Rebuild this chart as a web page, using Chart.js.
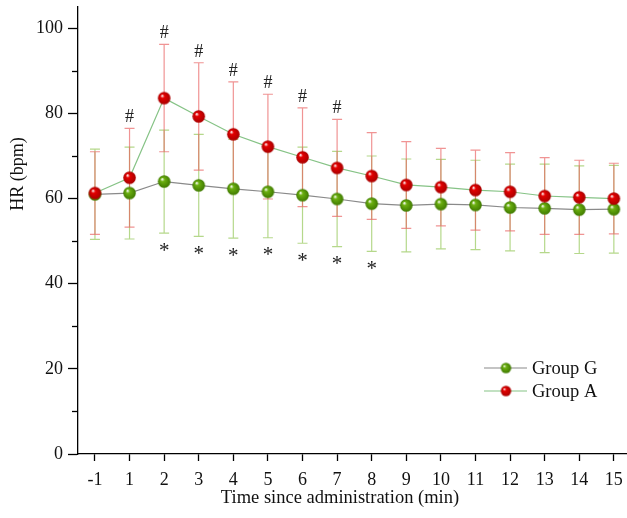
<!DOCTYPE html>
<html>
<head>
<meta charset="utf-8">
<script src="https://cdn.jsdelivr.net/npm/chart.js@4.4.0/dist/chart.umd.min.js"></script>
<style>
  html, body { margin: 0; padding: 0; background: #fff; }
  #wrap { width: 627px; height: 518px; }
</style>
</head>
<body>
<div id="wrap"><canvas id="hrChart" width="627" height="518"></canvas></div>
<script>
const timeLabels = ["-1", "1", "2", "3", "4", "5", "6", "7", "8", "9", "10", "11", "12", "13", "14", "15"];
const groupGMean = [61.0, 61.3, 64.0, 63.1, 62.3, 61.6, 60.8, 59.9, 58.8, 58.4, 58.7, 58.5, 57.9, 57.7, 57.4, 57.5];
const groupGSD   = [10.6, 10.8, 12.1, 12.0, 11.6, 10.8, 11.3, 11.2, 11.2, 10.9, 10.5, 10.5, 10.2, 10.4, 10.3, 10.3];
const groupAMean = [61.3, 64.9, 83.6, 79.3, 75.1, 72.2, 69.7, 67.2, 65.3, 63.2, 62.7, 62.0, 61.6, 60.6, 60.3, 60.0];
const groupASD   = [9.7, 11.6, 12.6, 12.6, 12.3, 12.3, 11.6, 11.4, 10.2, 10.2, 9.1, 9.4, 9.2, 9.0, 8.7, 8.3];
// significance marks: # above group A, * below group G
const hashMarks = ["", "#", "#", "#", "#", "#", "#", "#", "", "", "", "", "", "", "", ""];
const starMarks = ["", "", "*", "*", "*", "*", "*", "*", "*", "", "", "", "", "", "", ""];

const serif = '"Liberation Serif", "Times New Roman", serif';

function makeBall(base, dark, r) {
    const s = Math.ceil(r * 2 + 2);
    const c = document.createElement('canvas');
    c.width = s; c.height = s;
    const g = c.getContext('2d');
    const cx = s / 2, cy = s / 2;
    const grad = g.createRadialGradient(cx - r * 0.35, cy - r * 0.4, r * 0.05, cx, cy, r);
    grad.addColorStop(0, '#ffffff');
    grad.addColorStop(0.28, base);
    grad.addColorStop(1, dark);
    g.fillStyle = grad;
    g.beginPath();
    g.arc(cx, cy, r, 0, Math.PI * 2);
    g.fill();
    return c;
}

const ballG = makeBall('#6cb010', '#3f7a00', 6.3);
const ballA = makeBall('#e40000', '#a80000', 6.3);
const legendBallG = makeBall('#6cb010', '#3f7a00', 5.2);
const legendBallA = makeBall('#e40000', '#a80000', 5.2);

const errorBars = {
    id: 'errorBars',
    beforeDatasetsDraw(chart) {
        const ctx = chart.ctx;
        const y = chart.scales.y;
        [[0, groupGSD], [1, groupASD]].forEach(([di, sd]) => {
            const ds = chart.data.datasets[di];
            const meta = chart.getDatasetMeta(di);
            ctx.save();
            ctx.strokeStyle = ds.errorColor;
            ctx.lineWidth = 1.2;
            meta.data.forEach((pt, i) => {
                const m = ds.data[i].y;
                const top = y.getPixelForValue(m + sd[i]);
                const bot = y.getPixelForValue(m - sd[i]);
                ctx.beginPath();
                ctx.moveTo(pt.x, top); ctx.lineTo(pt.x, bot);
                ctx.moveTo(pt.x - 5, top); ctx.lineTo(pt.x + 5, top);
                ctx.moveTo(pt.x - 5, bot); ctx.lineTo(pt.x + 5, bot);
                ctx.stroke();
            });
            ctx.restore();
        });
    },
    afterDatasetsDraw(chart) {
        const ctx = chart.ctx;
        const y = chart.scales.y;
        const metaA = chart.getDatasetMeta(1);
        const metaG = chart.getDatasetMeta(0);
        ctx.save();
        ctx.fillStyle = '#222';
        ctx.textAlign = 'center';
        ctx.textBaseline = 'middle';
        ctx.font = '18px ' + serif;
        hashMarks.forEach((t, i) => {
            if (!t) return;
            const top = y.getPixelForValue(groupAMean[i] + groupASD[i]);
            ctx.fillText(t, metaA.data[i].x, top - 11);
        });
        ctx.font = '21px ' + serif;
        starMarks.forEach((t, i) => {
            if (!t) return;
            const bot = y.getPixelForValue(groupGMean[i] - groupGSD[i]);
            ctx.fillText(t, metaG.data[i].x, bot + 18);
        });
        ctx.restore();
    }
};

const axisExtras = {
    id: 'axisExtras',
    afterDraw(chart) {
        const ctx = chart.ctx;
        const y = chart.scales.y;
        const left = chart.chartArea.left;
        ctx.save();
        ctx.strokeStyle = '#000';
        ctx.lineWidth = 1.3;
        for (let v = 10; v < 105; v += 20) {
            const py = Math.round(y.getPixelForValue(v)) + 0.5;
            ctx.beginPath();
            ctx.moveTo(left - 6, py); ctx.lineTo(left, py);
            ctx.stroke();
        }
        ctx.fillStyle = '#111';
        ctx.textAlign = 'center';
        ctx.textBaseline = 'middle';
        // x axis title (centred a bit left of the plot middle, like the original)
        ctx.font = '18.5px ' + serif;
        ctx.fillText('Time since administration (min)', 340, 498);
        // y axis title, sits above the middle of the axis
        ctx.save();
        ctx.translate(18, 174);
        ctx.rotate(-Math.PI / 2);
        ctx.font = '18px ' + serif;
        ctx.fillText('HR (bpm)', 0, 0);
        ctx.restore();
        // legend
        const items = [
            { ds: chart.data.datasets[0], ball: legendBallG, y: 368 },
            { ds: chart.data.datasets[1], ball: legendBallA, y: 391 }
        ];
        ctx.font = '18.5px ' + serif;
        ctx.textAlign = 'left';
        items.forEach(it => {
            ctx.strokeStyle = it.ds.borderColor;
            ctx.lineWidth = 1.2;
            ctx.beginPath();
            ctx.moveTo(484, it.y); ctx.lineTo(527, it.y);
            ctx.stroke();
            ctx.drawImage(it.ball, 506 - it.ball.width / 2, it.y - it.ball.height / 2);
            ctx.fillStyle = '#111';
            ctx.fillText(it.ds.label, 532, it.y + 1);
        });
        ctx.restore();
    }
};

new Chart(document.getElementById('hrChart').getContext('2d'), {
    type: 'line',
    data: {
        datasets: [
            {
                label: 'Group G',
                data: groupGMean.map((v, i) => ({ x: i, y: v })),
                borderColor: '#8a8a8a',
                borderWidth: 1.2,
                errorColor: 'rgba(150, 200, 90, 0.7)',
                pointStyle: ballG,
                order: 1
            },
            {
                label: 'Group A',
                data: groupAMean.map((v, i) => ({ x: i, y: v })),
                borderColor: '#86c386',
                borderWidth: 1.2,
                errorColor: 'rgba(232, 90, 90, 0.65)',
                pointStyle: ballA,
                order: 0
            }
        ]
    },
    options: {
        responsive: false,
        animation: false,
        events: [],
        layout: { autoPadding: false, padding: { top: 7, right: 0, left: 0, bottom: 0 } },
        plugins: { legend: { display: false }, tooltip: { enabled: false } },
        scales: {
            x: {
                type: 'linear',
                min: -0.49,
                max: 15.38,
                afterFit(scale) { scale.height = 64; scale.paddingLeft = 0; scale.paddingRight = 0; },
                border: { display: true, color: '#000', width: 1.3 },
                grid: { drawOnChartArea: false, drawTicks: true, tickLength: 7, tickColor: '#000', tickWidth: 1.3 },
                ticks: {
                    stepSize: 1,
                    includeBounds: false,
                    autoSkip: false,
                    maxRotation: 0,
                    padding: 8,
                    color: '#111',
                    font: { family: serif, size: 18 },
                    callback: v => timeLabels[v]
                }
            },
            y: {
                min: 0,
                max: 105,
                afterFit(scale) { scale.width = 78; scale.paddingTop = 0; scale.paddingBottom = 0; },
                border: { display: true, color: '#000', width: 1.3 },
                grid: { drawOnChartArea: false, drawTicks: true, tickLength: 10, tickColor: '#000', tickWidth: 1.3 },
                ticks: {
                    stepSize: 20,
                    includeBounds: false,
                    padding: 5,
                    color: '#111',
                    font: { family: serif, size: 18 }
                }
            }
        }
    },
    plugins: [errorBars, axisExtras]
});
</script>
</body>
</html>
